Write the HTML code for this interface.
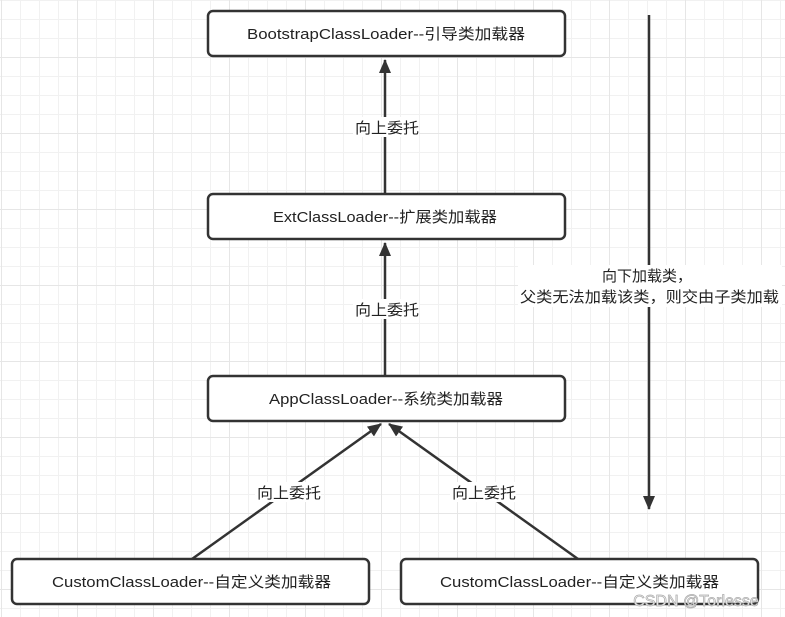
<!DOCTYPE html>
<html><head><meta charset="utf-8"><style>
html,body{margin:0;padding:0}
body{width:785px;height:617px;overflow:hidden;background:#fff;
background-image:
linear-gradient(to right,#e6e6e6 1px,transparent 1px),
linear-gradient(to bottom,#e6e6e6 1px,transparent 1px),
linear-gradient(to right,#f1f1f1 1px,transparent 1px),
linear-gradient(to bottom,#f1f1f1 1px,transparent 1px);
background-size:76px 76px,76px 76px,19px 19px,19px 19px;
background-position:1px 0,0 -19px,1px 0,0 0;}
</style></head><body>
<svg width="785" height="617" style="position:absolute;left:0;top:0" font-family="Liberation Sans, Noto Sans CJK SC, sans-serif" font-size="15">
<defs>
<marker id="b" markerWidth="14" markerHeight="14" refX="13" refY="7" orient="auto" markerUnits="userSpaceOnUse"><path d="M0,1 L14,7 L0,13 Z" fill="#333"/></marker></defs>
<g stroke="#333" stroke-width="2.5" fill="none">
<line x1="385" y1="194" x2="385" y2="60" marker-end="url(#b)"/>
<line x1="385" y1="376" x2="385" y2="243" marker-end="url(#b)"/>
<line x1="192" y1="559" x2="381" y2="424" marker-end="url(#b)"/>
<line x1="578" y1="559" x2="389" y2="424" marker-end="url(#b)"/>
<line x1="649" y1="15" x2="649" y2="509" marker-end="url(#b)"/>
<rect x="208" y="11" width="357" height="45" rx="5" fill="#fff"/>
<rect x="208" y="194" width="357" height="45" rx="5" fill="#fff"/>
<rect x="208" y="376" width="357" height="45" rx="5" fill="#fff"/>
<rect x="12" y="559" width="357" height="45" rx="5" fill="#fff"/>
<rect x="401" y="559" width="357" height="45" rx="5" fill="#fff"/>
</g>
<g fill="#fff">
<rect x="353" y="117" width="66" height="20"/><rect x="353" y="299" width="66" height="20"/>
<rect x="255" y="482" width="66" height="20"/><rect x="450" y="482" width="66" height="20"/>
<rect x="518" y="265" width="264" height="42"/>
</g>
<g fill="#222" lengthAdjust="spacingAndGlyphs">
<text x="247" y="39" textLength="278" lengthAdjust="spacingAndGlyphs">BootstrapClassLoader--引导类加载器</text>
<text x="273" y="222" textLength="224" lengthAdjust="spacingAndGlyphs">ExtClassLoader--扩展类加载器</text>
<text x="269" y="404" textLength="234" lengthAdjust="spacingAndGlyphs">AppClassLoader--系统类加载器</text>
<text x="52" y="587" textLength="279" lengthAdjust="spacingAndGlyphs">CustomClassLoader--自定义类加载器</text>
<text x="440" y="587" textLength="279" lengthAdjust="spacingAndGlyphs">CustomClassLoader--自定义类加载器</text>
<text x="355" y="133" textLength="64" lengthAdjust="spacingAndGlyphs">向上委托</text>
<text x="355" y="315" textLength="64" lengthAdjust="spacingAndGlyphs">向上委托</text>
<text x="257" y="498" textLength="64" lengthAdjust="spacingAndGlyphs">向上委托</text>
<text x="452" y="498" textLength="64" lengthAdjust="spacingAndGlyphs">向上委托</text>
<text x="602" y="281" textLength="90" lengthAdjust="spacingAndGlyphs">向下加载类，</text>
<text x="520" y="302" textLength="259" lengthAdjust="spacingAndGlyphs">父类无法加载该类，则交由子类加载</text>
</g>
<text x="696" y="606" text-anchor="middle" fill="#f4f4f4" stroke="#aaa" stroke-width="0.7" font-size="16">CSDN @Torlesse</text>
</svg>
</body></html>
